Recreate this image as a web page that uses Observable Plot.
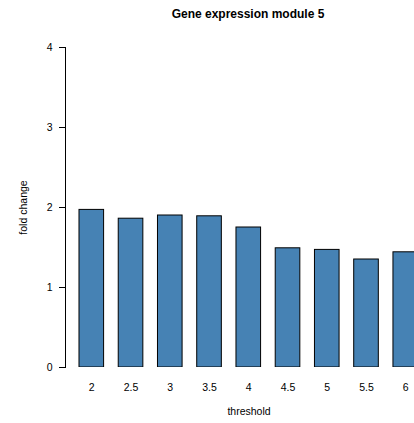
<!DOCTYPE html>
<html>
<head>
<meta charset="utf-8">
<script src="https://cdn.jsdelivr.net/npm/d3@7"></script>
<script src="https://cdn.jsdelivr.net/npm/@observablehq/plot@0.6"></script>
<style>
  html, body { margin: 0; padding: 0; background: white; overflow: hidden; }
  #chart svg { overflow: hidden; display: block; }
</style>
</head>
<body>
<div id="chart"></div>
<script>
const title = "Gene expression module 5";
const xLabel = "threshold";
const yLabel = "fold change";
const thresholds = ["2", "2.5", "3", "3.5", "4", "4.5", "5", "5.5", "6"];
const foldChange = [1.97, 1.86, 1.90, 1.89, 1.75, 1.49, 1.47, 1.35, 1.44];
const yTicks = [0, 1, 2, 3, 4];

const data = thresholds.map((t, i) => ({t, v: foldChange[i]}));
const font = "Liberation Sans, Arial, Helvetica, sans-serif";
const mid = {textAnchor: "middle", lineAnchor: "middle"};

const chart = Plot.plot({
  width: 414,
  height: 423,
  marginLeft: 65,
  marginRight: 0,
  marginTop: 47,
  marginBottom: 56,
  style: {fontFamily: font, color: "black", background: "white"},
  x: {type: "band", domain: thresholds, range: [64.35, 432.2], padding: 0.373, round: false, axis: null},
  y: {domain: [0, 4], axis: null},
  marks: [
    Plot.barY(data, {x: "t", y: "v", fill: "#4682B4", stroke: "black", strokeWidth: 1, clip: true}),
    Plot.frame({anchor: "left", stroke: "black", strokeWidth: 1}),
    Plot.axisY({ticks: yTicks, tickFormat: d => String(d), tickSize: 6, tickPadding: 7, fontSize: 10.5, stroke: "black", fill: "black", label: null}),
    Plot.text(data, {x: "t", text: "t", frameAnchor: "bottom", dy: 20, fontSize: 10.5, fill: "black", ...mid}),
    Plot.text([xLabel], {frameAnchor: "bottom", dy: 44, dx: 9, fontSize: 10.5, fill: "black", ...mid}),
    Plot.text([yLabel], {frameAnchor: "left", dx: -42, rotate: -90, fontSize: 10.5, fill: "black", ...mid}),
    Plot.text([title], {frameAnchor: "top", dy: -33, dx: 8, fontSize: 12, fontWeight: "bold", fill: "black", ...mid})
  ]
});
document.getElementById("chart").appendChild(chart);
</script>
</body>
</html>
